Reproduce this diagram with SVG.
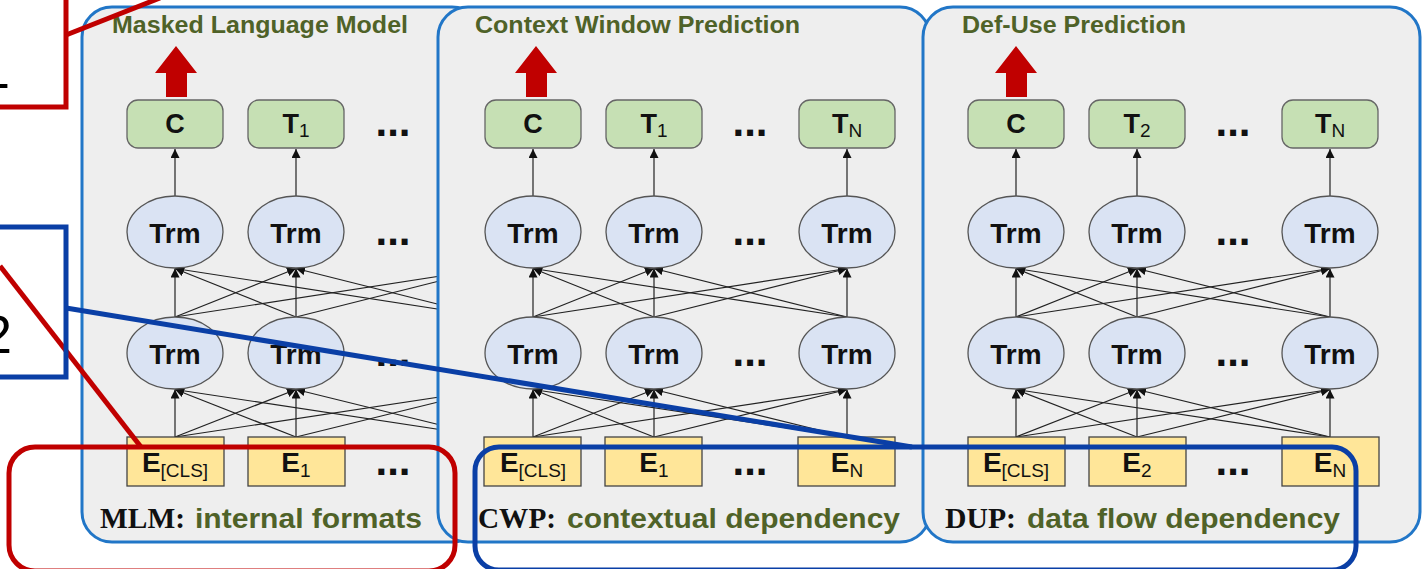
<svg xmlns="http://www.w3.org/2000/svg" width="1422" height="569" viewBox="0 0 1422 569">
  <style>
    .panel { fill: #eeeeee; stroke: #2176c7; stroke-width: 3; }
    .out { fill: #c6e0b4; stroke: #666666; stroke-width: 1.3; }
    .trm { fill: #dae3f3; stroke: #555555; stroke-width: 1.3; }
    .emb { fill: #ffe699; stroke: #444444; stroke-width: 1.3; }
    .lbl { font-family: "Liberation Sans", Arial, sans-serif; font-weight: bold; fill: #111111; text-anchor: middle; }
    .sub { font-weight: normal; }
    .dots { font-family: "Liberation Sans", Arial, sans-serif; font-weight: bold; font-size: 42px; fill: #111111; text-anchor: middle; }
    .title { font-family: "Liberation Sans", Arial, sans-serif; font-weight: bold; font-size: 23px; fill: #4f6228; }
    .tag { font-family: "Liberation Serif", "Times New Roman", serif; font-weight: bold; font-size: 29px; fill: #111111; }
    .desc { font-family: "Liberation Sans", Arial, sans-serif; font-weight: bold; font-size: 27px; fill: #4f6228; }
    .connectors path { fill: none; stroke: #222222; stroke-width: 1.2; marker-end: url(#ah); }
    .bigarrow { fill: #c00000; }
    .red { fill: none; stroke: #c00000; stroke-width: 5; }
    .blue { fill: none; stroke: #0a3fa6; stroke-width: 5; }
    .mark { font-family: "Liberation Sans", Arial, sans-serif; font-size: 54px; fill: #000000; }
  </style>
  <defs>
    <marker id="ah" viewBox="0 0 10 10" refX="10" refY="5" markerWidth="9" markerHeight="9" markerUnits="userSpaceOnUse" orient="auto">
      <path d="M0,0 L10,5 L0,10 z" fill="#111111"/>
    </marker>
  </defs>

  <!-- ===== Panel 1: Masked Language Model ===== -->
  <g id="panel-mlm">
    <rect class="panel" x="82" y="7" width="400" height="535" rx="30"/>
    <text class="title" x="112" y="33" textLength="296" lengthAdjust="spacingAndGlyphs">Masked Language Model</text>
    <path class="bigarrow" d="M176,46 L197,73 L187,73 L187,97 L166,97 L166,73 L155,73 z"/>
    <g class="connectors" id="mlm-connectors">
      <path d="M175,437 L175,389.5"/>
      <path d="M175,437 L296,389.5"/>
      <path d="M175,437 L489,389.5"/>
      <path d="M296,437 L175,389.5"/>
      <path d="M296,437 L296,389.5"/>
      <path d="M296,437 L489,389.5"/>
      <path d="M489,437 L175,389.5"/>
      <path d="M489,437 L296,389.5"/>
      <path d="M175,317 L175,268.5"/>
      <path d="M175,317 L296,268.5"/>
      <path d="M175,317 L489,268.5"/>
      <path d="M296,317 L175,268.5"/>
      <path d="M296,317 L296,268.5"/>
      <path d="M296,317 L489,268.5"/>
      <path d="M489,317 L175,268.5"/>
      <path d="M489,317 L296,268.5"/>
      <path d="M175,196 L175,149"/>
      <path d="M296,196 L296,149"/>
    </g>
    <g id="mlm-c"><rect class="out" x="127" y="100" width="96" height="48" rx="11"/><text class="lbl" x="175" y="133" font-size="27">C</text></g>
    <g id="mlm-t1"><rect class="out" x="248" y="100" width="96" height="48" rx="11"/><text class="lbl" x="296" y="133" font-size="27">T<tspan class="sub" font-size="19" dy="4">1</tspan></text></g>
    <text class="dots" x="393" y="136">...</text>
    <g id="mlm-trm2-0"><ellipse class="trm" cx="175" cy="232" rx="48" ry="36"/><text class="lbl" x="175" y="243" font-size="28">Trm</text></g>
    <g id="mlm-trm2-1"><ellipse class="trm" cx="296" cy="232" rx="48" ry="36"/><text class="lbl" x="296" y="243" font-size="28">Trm</text></g>
    <text class="dots" x="393" y="245">...</text>
    <g id="mlm-trm1-0"><ellipse class="trm" cx="175" cy="353" rx="48" ry="36"/><text class="lbl" x="175" y="364" font-size="28">Trm</text></g>
    <g id="mlm-trm1-1"><ellipse class="trm" cx="296" cy="353" rx="48" ry="36"/><text class="lbl" x="296" y="364" font-size="28">Trm</text></g>
    <text class="dots" x="393" y="366">...</text>
    <g id="mlm-ecls"><rect class="emb" x="127" y="437" width="97" height="49"/><text class="lbl" x="175" y="472" font-size="28">E<tspan class="sub" font-size="19" dy="5">[CLS]</tspan></text></g>
    <g id="mlm-e1"><rect class="emb" x="248" y="437" width="97" height="49"/><text class="lbl" x="296" y="472" font-size="28">E<tspan class="sub" font-size="19" dy="5">1</tspan></text></g>
    <text class="dots" x="393" y="475">...</text>
    <text class="tag" x="100" y="528" textLength="85" lengthAdjust="spacingAndGlyphs">MLM:</text>
    <text class="desc" x="195" y="528" textLength="227" lengthAdjust="spacingAndGlyphs">internal formats</text>
  </g>

  <!-- ===== Panel 2: Context Window Prediction ===== -->
  <g id="panel-cwp">
    <rect class="panel" x="438" y="7" width="492" height="535" rx="30"/>
    <text class="title" x="475" y="33" textLength="325" lengthAdjust="spacingAndGlyphs">Context Window Prediction</text>
    <path class="bigarrow" d="M536,46 L557,73 L547,73 L547,97 L526,97 L526,73 L515,73 z"/>
    <g class="connectors" id="cwp-connectors">
      <path d="M533,437 L533,389.5"/>
      <path d="M533,437 L654,389.5"/>
      <path d="M533,437 L847,389.5"/>
      <path d="M654,437 L533,389.5"/>
      <path d="M654,437 L654,389.5"/>
      <path d="M654,437 L847,389.5"/>
      <path d="M847,437 L533,389.5"/>
      <path d="M847,437 L654,389.5"/>
      <path d="M847,437 L847,389.5"/>
      <path d="M533,317 L533,268.5"/>
      <path d="M533,317 L654,268.5"/>
      <path d="M533,317 L847,268.5"/>
      <path d="M654,317 L533,268.5"/>
      <path d="M654,317 L654,268.5"/>
      <path d="M654,317 L847,268.5"/>
      <path d="M847,317 L533,268.5"/>
      <path d="M847,317 L654,268.5"/>
      <path d="M847,317 L847,268.5"/>
      <path d="M533,196 L533,149"/>
      <path d="M654,196 L654,149"/>
      <path d="M847,196 L847,149"/>
    </g>
    <g id="cwp-c"><rect class="out" x="485" y="100" width="96" height="48" rx="11"/><text class="lbl" x="533" y="133" font-size="27">C</text></g>
    <g id="cwp-t1"><rect class="out" x="606" y="100" width="96" height="48" rx="11"/><text class="lbl" x="654" y="133" font-size="27">T<tspan class="sub" font-size="19" dy="4">1</tspan></text></g>
    <text class="dots" x="750" y="136">...</text>
    <g id="cwp-tn"><rect class="out" x="799" y="100" width="96" height="48" rx="11"/><text class="lbl" x="847" y="133" font-size="27">T<tspan class="sub" font-size="19" dy="4">N</tspan></text></g>
    <g id="cwp-trm2-0"><ellipse class="trm" cx="533" cy="232" rx="48" ry="36"/><text class="lbl" x="533" y="243" font-size="28">Trm</text></g>
    <g id="cwp-trm2-1"><ellipse class="trm" cx="654" cy="232" rx="48" ry="36"/><text class="lbl" x="654" y="243" font-size="28">Trm</text></g>
    <text class="dots" x="750" y="245">...</text>
    <g id="cwp-trm2-n"><ellipse class="trm" cx="847" cy="232" rx="48" ry="36"/><text class="lbl" x="847" y="243" font-size="28">Trm</text></g>
    <g id="cwp-trm1-0"><ellipse class="trm" cx="533" cy="353" rx="48" ry="36"/><text class="lbl" x="533" y="364" font-size="28">Trm</text></g>
    <g id="cwp-trm1-1"><ellipse class="trm" cx="654" cy="353" rx="48" ry="36"/><text class="lbl" x="654" y="364" font-size="28">Trm</text></g>
    <text class="dots" x="750" y="366">...</text>
    <g id="cwp-trm1-n"><ellipse class="trm" cx="847" cy="353" rx="48" ry="36"/><text class="lbl" x="847" y="364" font-size="28">Trm</text></g>
    <g id="cwp-ecls"><rect class="emb" x="484" y="437" width="97" height="49"/><text class="lbl" x="533" y="472" font-size="28">E<tspan class="sub" font-size="19" dy="5">[CLS]</tspan></text></g>
    <g id="cwp-e1"><rect class="emb" x="605" y="437" width="97" height="49"/><text class="lbl" x="654" y="472" font-size="28">E<tspan class="sub" font-size="19" dy="5">1</tspan></text></g>
    <text class="dots" x="750" y="475">...</text>
    <g id="cwp-en"><rect class="emb" x="798" y="437" width="97" height="49"/><text class="lbl" x="847" y="472" font-size="28">E<tspan class="sub" font-size="19" dy="5">N</tspan></text></g>
    <text class="tag" x="478" y="528" textLength="78" lengthAdjust="spacingAndGlyphs">CWP:</text>
    <text class="desc" x="567" y="528" textLength="333" lengthAdjust="spacingAndGlyphs">contextual dependency</text>
  </g>

  <!-- ===== Panel 3: Def-Use Prediction ===== -->
  <g id="panel-dup">
    <rect class="panel" x="923" y="7" width="497" height="535" rx="30"/>
    <text class="title" x="962" y="33" textLength="224" lengthAdjust="spacingAndGlyphs">Def-Use Prediction</text>
    <path class="bigarrow" d="M1016,46 L1037,73 L1027,73 L1027,97 L1006,97 L1006,73 L995,73 z"/>
    <g class="connectors" id="dup-connectors">
      <path d="M1016,437 L1016,389.5"/>
      <path d="M1016,437 L1137,389.5"/>
      <path d="M1016,437 L1330,389.5"/>
      <path d="M1137,437 L1016,389.5"/>
      <path d="M1137,437 L1137,389.5"/>
      <path d="M1137,437 L1330,389.5"/>
      <path d="M1330,437 L1016,389.5"/>
      <path d="M1330,437 L1137,389.5"/>
      <path d="M1330,437 L1330,389.5"/>
      <path d="M1016,317 L1016,268.5"/>
      <path d="M1016,317 L1137,268.5"/>
      <path d="M1016,317 L1330,268.5"/>
      <path d="M1137,317 L1016,268.5"/>
      <path d="M1137,317 L1137,268.5"/>
      <path d="M1137,317 L1330,268.5"/>
      <path d="M1330,317 L1016,268.5"/>
      <path d="M1330,317 L1137,268.5"/>
      <path d="M1330,317 L1330,268.5"/>
      <path d="M1016,196 L1016,149"/>
      <path d="M1137,196 L1137,149"/>
      <path d="M1330,196 L1330,149"/>
    </g>
    <g id="dup-c"><rect class="out" x="968" y="100" width="96" height="48" rx="11"/><text class="lbl" x="1016" y="133" font-size="27">C</text></g>
    <g id="dup-t2"><rect class="out" x="1089" y="100" width="96" height="48" rx="11"/><text class="lbl" x="1137" y="133" font-size="27">T<tspan class="sub" font-size="19" dy="4">2</tspan></text></g>
    <text class="dots" x="1233" y="136">...</text>
    <g id="dup-tn"><rect class="out" x="1282" y="100" width="96" height="48" rx="11"/><text class="lbl" x="1330" y="133" font-size="27">T<tspan class="sub" font-size="19" dy="4">N</tspan></text></g>
    <g id="dup-trm2-0"><ellipse class="trm" cx="1016" cy="232" rx="48" ry="36"/><text class="lbl" x="1016" y="243" font-size="28">Trm</text></g>
    <g id="dup-trm2-1"><ellipse class="trm" cx="1137" cy="232" rx="48" ry="36"/><text class="lbl" x="1137" y="243" font-size="28">Trm</text></g>
    <text class="dots" x="1233" y="245">...</text>
    <g id="dup-trm2-n"><ellipse class="trm" cx="1330" cy="232" rx="48" ry="36"/><text class="lbl" x="1330" y="243" font-size="28">Trm</text></g>
    <g id="dup-trm1-0"><ellipse class="trm" cx="1016" cy="353" rx="48" ry="36"/><text class="lbl" x="1016" y="364" font-size="28">Trm</text></g>
    <g id="dup-trm1-1"><ellipse class="trm" cx="1137" cy="353" rx="48" ry="36"/><text class="lbl" x="1137" y="364" font-size="28">Trm</text></g>
    <text class="dots" x="1233" y="366">...</text>
    <g id="dup-trm1-n"><ellipse class="trm" cx="1330" cy="353" rx="48" ry="36"/><text class="lbl" x="1330" y="364" font-size="28">Trm</text></g>
    <g id="dup-ecls"><rect class="emb" x="968" y="437" width="97" height="49"/><text class="lbl" x="1016" y="472" font-size="28">E<tspan class="sub" font-size="19" dy="5">[CLS]</tspan></text></g>
    <g id="dup-e2"><rect class="emb" x="1089" y="437" width="97" height="49"/><text class="lbl" x="1137" y="472" font-size="28">E<tspan class="sub" font-size="19" dy="5">2</tspan></text></g>
    <text class="dots" x="1233" y="475">...</text>
    <g id="dup-en"><rect class="emb" x="1282" y="437" width="97" height="49"/><text class="lbl" x="1330" y="472" font-size="28">E<tspan class="sub" font-size="19" dy="5">N</tspan></text></g>
    <text class="tag" x="945" y="528" textLength="71" lengthAdjust="spacingAndGlyphs">DUP:</text>
    <text class="desc" x="1027" y="528" textLength="313" lengthAdjust="spacingAndGlyphs">data flow dependency</text>
  </g>

  <!-- ===== Callout frames laid over the panels ===== -->
  <g id="callout-1">
    <text class="mark" x="-20" y="88">1</text>
    <path class="red" d="M-5,107 L66,107 L66,-5"/>
    <path class="red" d="M66,35 L160,-2"/>
    <path class="red" d="M0,266 L141,447"/>
    <rect class="red" x="9" y="447" width="446" height="124" rx="26"/>
  </g>
  <g id="callout-2">
    <text class="mark" x="-18" y="353">2</text>
    <path class="blue" d="M-5,227 L66,227 L66,377 L-5,377"/>
    <path class="blue" d="M66,308 L912,447"/>
    <rect class="blue" x="475" y="447" width="881" height="123" rx="24"/>
  </g>
</svg>
